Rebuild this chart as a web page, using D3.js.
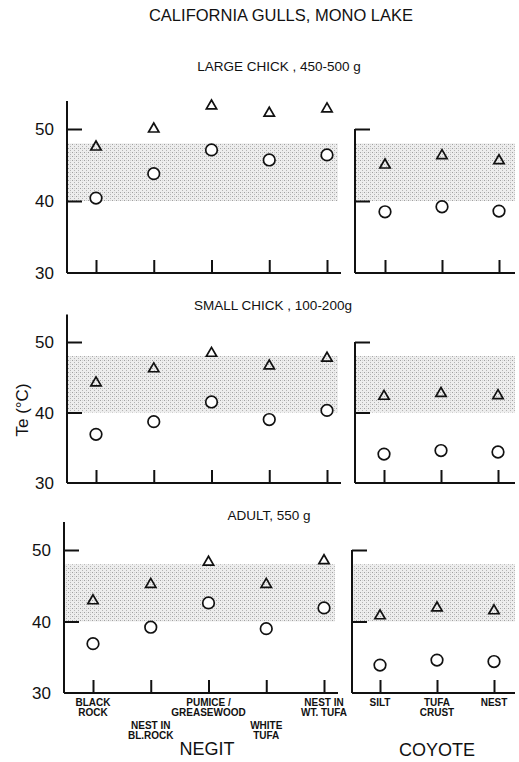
<!DOCTYPE html>
<html>
<head>
<meta charset="utf-8">
<script src="https://cdn.jsdelivr.net/npm/d3@7"></script>
<style>
  body { margin: 0; background: #fff; }
  text { font-family: "Liberation Sans", Arial, sans-serif; fill: #111; }
</style>
</head>
<body>
<div id="chart"></div>
<script>
// ---- data (Te in °C) ----
const negitSites = ["BLACK|ROCK", "NEST IN|BL.ROCK", "PUMICE /|GREASEWOOD", "WHITE|TUFA", "NEST IN|WT. TUFA"]
const coyoteSites = ["SILT", "TUFA|CRUST", "NEST"]
const panelTitles = ["LARGE CHICK , 450-500 g", "SMALL CHICK , 100-200g", "ADULT, 550 g"]
const yTicks = [30, 40, 50]
const shadeBand = [40, 48]

// triangles (upper) and circles (lower)
const negitTri = [
  [47.5, 50.0, 53.2, 52.2, 52.8],
  [44.2, 46.2, 48.4, 46.6, 47.7],
  [42.9, 45.2, 48.3, 45.2, 48.5]
]
const negitCirc = [
  [40.4, 43.8, 47.1, 45.7, 46.4],
  [36.9, 38.7, 41.5, 39.0, 40.3],
  [36.9, 39.2, 42.6, 39.0, 41.9]
]
const coyoteTri = [
  [45.0, 46.3, 45.6],
  [42.3, 42.7, 42.4],
  [40.8, 41.9, 41.5]
]
const coyoteCirc = [
  [38.5, 39.2, 38.6],
  [34.1, 34.6, 34.4],
  [33.9, 34.6, 34.4]
]

const width = 519, height = 762

// layout of the three stacked panels
const panels = [
  { y30: 273, y50: 129, dx: 0, titleX: 279, titleY: 71 },
  { y30: 483, y50: 342, dx: 0, titleX: 273, titleY: 310 },
  { y30: 693, y50: 550, dx: -3, titleX: 269, titleY: 520 }
]

const svg = d3.select('#chart')
  .append('svg')
  .attr('width', width)
  .attr('height', height)

// stipple pattern for the shaded band
const defs = svg.append('defs')
const pat = defs.append('pattern')
  .attr('id', 'stipple')
  .attr('patternUnits', 'userSpaceOnUse')
  .attr('width', 4).attr('height', 4)
pat.append('rect').attr('width', 4).attr('height', 4).attr('fill', '#ededed')
pat.append('rect').attr('x', 0).attr('y', 0).attr('width', 1).attr('height', 1).attr('fill', '#a0a0a0')
pat.append('rect').attr('x', 2).attr('y', 2).attr('width', 1).attr('height', 1).attr('fill', '#b4b4b4')
pat.append('rect').attr('x', 2).attr('y', 0).attr('width', 1).attr('height', 1).attr('fill', '#d2d2d2')

svg.append('text')
  .attr('x', 281).attr('y', 21)
  .attr('text-anchor', 'middle')
  .style('font-size', '16.5px')
  .text('CALIFORNIA GULLS, MONO LAKE')

const triPath = d3.symbol().type(d3.symbolTriangle).size(46)

panels.forEach((p, i) => {
  const yScale = d3.scaleLinear().domain([30, 50]).range([p.y30, p.y50])

  const xLeft = d3.scalePoint().domain(d3.range(negitSites.length)).range([96 + p.dx, 327 + p.dx])
  const xRight = d3.scalePoint().domain(d3.range(coyoteSites.length)).range([385 + p.dx - i, 499 + p.dx - i])

  const leftAxisX = 67 + p.dx
  const rightAxisX = 355 + p.dx
  const g = svg.append('g')

  // panel subtitle
  g.append('text')
    .attr('x', p.titleX).attr('y', p.titleY)
    .attr('text-anchor', 'middle')
    .style('font-size', '13.5px')
    .text(panelTitles[i])

  // shaded band
  g.append('rect')
    .attr('x', leftAxisX).attr('y', yScale(shadeBand[1]))
    .attr('width', 338 + p.dx - leftAxisX)
    .attr('height', yScale(shadeBand[0]) - yScale(shadeBand[1]))
    .attr('fill', 'url(#stipple)')
  g.append('rect')
    .attr('x', rightAxisX).attr('y', yScale(shadeBand[1]))
    .attr('width', 515 - rightAxisX)
    .attr('height', yScale(shadeBand[0]) - yScale(shadeBand[1]))
    .attr('fill', 'url(#stipple)')

  // left y axis (ticks point inward)
  const yAxisL = d3.axisRight(yScale).tickValues([40, 50]).tickSize(15).tickFormat('')
  const gyl = g.append('g').attr('transform', `translate(${leftAxisX},0)`).call(yAxisL)
  gyl.select('.domain').remove()
  gyl.append('line')
    .attr('x1', 0).attr('x2', 0)
    .attr('y1', yScale(30)).attr('y2', yScale(53.9))
  gyl.selectAll('line').attr('stroke', '#111').attr('stroke-width', 2)

  // tick labels on the left
  g.selectAll('.ylab')
    .data(yTicks)
    .enter()
    .append('text')
    .attr('x', leftAxisX - 13)
    .attr('y', d => yScale(d) + 6)
    .attr('text-anchor', 'end')
    .style('font-size', '17px')
    .text(d => d)

  // right y axis (stops at 50)
  const yAxisR = d3.axisRight(yScale).tickValues([40, 50]).tickSize(15).tickFormat('')
  const gyr = g.append('g').attr('transform', `translate(${rightAxisX},0)`).call(yAxisR)
  gyr.select('.domain').remove()
  gyr.append('line')
    .attr('x1', 0).attr('x2', 0)
    .attr('y1', yScale(30)).attr('y2', yScale(50))
  gyr.selectAll('line').attr('stroke', '#111').attr('stroke-width', 2)

  // x axes with upward ticks
  const gxl = g.append('g').attr('transform', `translate(0,${p.y30})`)
    .call(d3.axisTop(xLeft).tickSize(13).tickFormat(''))
  gxl.select('.domain').remove()
  gxl.append('line').attr('x1', leftAxisX).attr('x2', 341 + p.dx).attr('y1', 0).attr('y2', 0)
  gxl.selectAll('line').attr('stroke', '#111').attr('stroke-width', 2)

  const gxr = g.append('g').attr('transform', `translate(0,${p.y30})`)
    .call(d3.axisTop(xRight).tickSize(13).tickFormat(''))
  gxr.select('.domain').remove()
  gxr.append('line').attr('x1', rightAxisX).attr('x2', 515).attr('y1', 0).attr('y2', 0)
  gxr.selectAll('line').attr('stroke', '#111').attr('stroke-width', 2)

  // markers
  const drawTri = (vals, xs) => g.selectAll(null)
    .data(vals)
    .enter()
    .append('path')
    .attr('d', triPath)
    .attr('transform', (d, j) => `translate(${xs(j)},${yScale(d)})`)
    .attr('fill', 'none')
    .attr('stroke', '#111')
    .attr('stroke-width', 1.7)

  const drawCirc = (vals, xs) => g.selectAll(null)
    .data(vals)
    .enter()
    .append('circle')
    .attr('cx', (d, j) => xs(j))
    .attr('cy', d => yScale(d))
    .attr('r', 5.8)
    .attr('fill', '#fff')
    .attr('stroke', '#111')
    .attr('stroke-width', 1.7)

  drawTri(negitTri[i], xLeft)
  drawCirc(negitCirc[i], xLeft)
  drawTri(coyoteTri[i], xRight)
  drawCirc(coyoteCirc[i], xRight)

  // site labels under the last panel only
  if (i === panels.length - 1) {
    const addLabel = (label, x, row) => {
      const lines = label.split('|')
      const t = g.append('text')
        .attr('text-anchor', 'middle')
        .style('font-size', '10px')
        .style('font-weight', 'bold')
      lines.forEach((ln, k) => {
        t.append('tspan')
          .attr('x', x)
          .attr('y', p.y30 + 13 + row * 23 + k * 9.5)
          .text(ln)
      })
    }
    negitSites.forEach((s, j) => addLabel(s, xLeft(j), j % 2))
    coyoteSites.forEach((s, j) => addLabel(s, xRight(j), 0))

    g.append('text').attr('x', 207).attr('y', 755)
      .attr('text-anchor', 'middle').style('font-size', '18px').text('NEGIT')
    g.append('text').attr('x', 437).attr('y', 756)
      .attr('text-anchor', 'middle').style('font-size', '18px').text('COYOTE')
  }
})

// y axis title
svg.append('text')
  .attr('transform', 'translate(28,410) rotate(-90)')
  .attr('text-anchor', 'middle')
  .style('font-size', '17px')
  .text('Te (°C)')
</script>
</body>
</html>
